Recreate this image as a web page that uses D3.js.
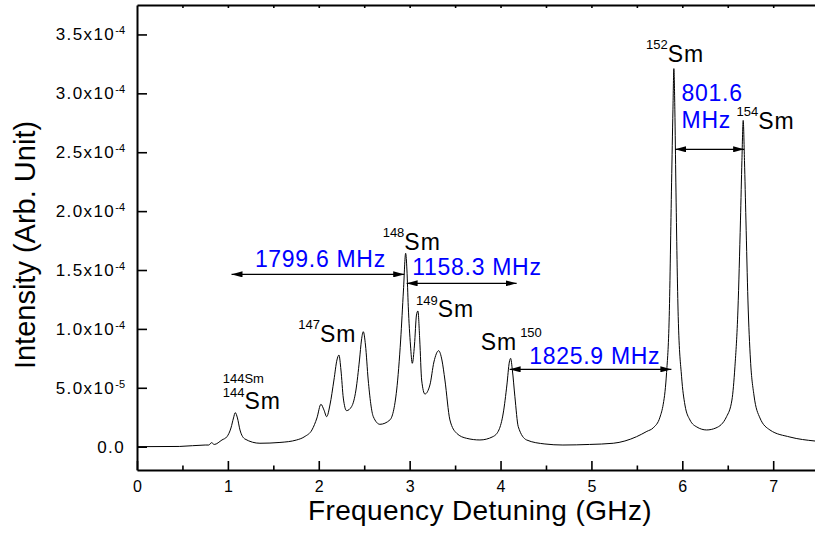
<!DOCTYPE html>
<html>
<head>
<meta charset="utf-8">
<script src="https://cdn.jsdelivr.net/npm/d3@7"></script>
<style>
  body { margin: 0; background: #fff; }
  text { font-family: Arial, "Liberation Sans", sans-serif; }
</style>
</head>
<body>
<div id="chart"></div>
<script>
// spectrum: frequency (GHz) and intensity (x1e-5 arb. unit)
var freqGHz = [0, 0.47, 0.75, 0.79, 0.82, 0.85, 0.935, 0.99, 1.034, 1.062,
  1.081, 1.105, 1.133, 1.188, 1.353, 1.573, 1.757, 1.848, 1.925, 1.98,
  2.024, 2.057, 2.087, 2.123, 2.167, 2.2, 2.222, 2.244, 2.27, 2.306,
  2.361, 2.409, 2.448, 2.47, 2.49, 2.514, 2.544, 2.6, 2.673, 2.783,
  2.857, 2.901, 2.932, 2.956, 2.97, 2.985, 3.009, 3.029, 3.053, 3.075,
  3.091, 3.111, 3.132, 3.168, 3.223, 3.267, 3.319, 3.355, 3.388, 3.443,
  3.517, 3.627, 3.773, 3.916, 3.982, 4.03, 4.07, 4.097, 4.111, 4.13,
  4.158, 4.195, 4.287, 4.488, 4.686, 4.98, 5.24, 5.497, 5.61, 5.68,
  5.754, 5.79, 5.81, 5.827, 5.856, 5.882, 5.897, 5.907, 5.918, 5.929, 5.955,
  5.992, 6.029, 6.084, 6.16, 6.267, 6.37, 6.487, 6.546, 6.579, 6.612,
  6.64, 6.656, 6.67, 6.684, 6.7, 6.722, 6.75, 6.788, 6.854, 6.964,
  7.184, 7.46];
var intensity = [0.0, 0.02, 0.14, 0.14, 0.34, 0.19, 0.57, 0.85, 1.59, 2.44,
  2.89, 2.44, 1.42, 0.65, 0.29, 0.36, 0.57, 0.87, 1.42, 2.44,
  3.6, 3.12, 2.55, 3.54, 5.66, 7.36, 7.78, 6.51, 4.13, 3.06,
  3.4, 4.81, 7.36, 9.06, 9.76, 8.63, 5.66, 2.55, 1.9, 2.27,
  4.81, 9.06, 13.3, 16.42, 15.0, 11.88, 8.63, 7.08, 8.63, 11.18,
  11.52, 9.06, 5.66, 4.47, 5.24, 7.19, 8.15, 7.36, 5.66, 2.27,
  1.14, 0.71, 0.57, 0.85, 1.42, 2.86, 5.24, 7.19, 7.5, 6.51,
  4.24, 1.7, 0.57, 0.23, 0.14, 0.19, 0.29, 0.85, 1.3, 1.6,
  2.5, 3.6, 4.7, 6.3, 11.04, 22.4, 28.6, 32.1, 28.6, 22.4, 11.04,
  5.94, 3.54, 2.27, 1.67, 1.42, 1.59, 2.55, 3.96, 6.79, 11.6,
  19.24, 24.3, 27.7, 24.3, 19.24, 12.45, 7.36, 4.39, 2.44, 1.42,
  0.82, 0.48];

// axis ticks
var xTicks = [0, 1, 2, 3, 4, 5, 6, 7];
var xMinorTicks = [0.5, 1.5, 2.5, 3.5, 4.5, 5.5, 6.5];
var xTopTicks = [0.5, 1, 1.5, 2, 2.5, 3, 3.5, 4, 4.5, 5, 5.5, 6, 6.5, 7];
var yTicks = [0, 5, 10, 15, 20, 25, 30, 35];
var yTickBase = ["0.0", "5.0x10", "1.0x10", "1.5x10", "2.0x10", "2.5x10", "3.0x10", "3.5x10"];
var yTickExp = ["", "-5", "-4", "-4", "-4", "-4", "-4", "-4"];

// isotope labels (anchor in GHz / 1e-5 units)
var isoMass = ["144", "147", "148", "149", "150", "152", "154"];
var isoX = [0.943, 1.775, 2.703, 3.069, 3.781, 5.6, 6.597];
var isoY = [3.17, 8.91, 16.7, 10.98, 8.21, 32.68, 26.97];
var isoMassAfter = [false, false, false, false, true, false, false];

// isotope shift annotations
var gapLabels = [["1799.6 MHz"], ["1158.3 MHz"], ["1825.9 MHz"], ["801.6", "MHz"]];
var gapTextX = [1.297, 3.029, 4.316, 5.992];
var gapTextY = [15.28, 14.58, 7.0, 29.35];
var gapFrom = [1.04, 2.967, 4.10, 5.92];
var gapTo = [2.94, 4.177, 5.88, 6.68];
var gapArrowY = [14.63, 13.87, 6.57, 25.25];

var svgWidth = 815;
var svgHeight = 533;
var margin = { top: 5, right: 0, bottom: 63, left: 137 };
var width = svgWidth - margin.left - margin.right;
var height = svgHeight - margin.top - margin.bottom;

var svg = d3.select("#chart")
  .append("svg")
  .attr("width", svgWidth)
  .attr("height", svgHeight);

var defs = svg.append("defs");
defs.append("marker")
  .attr("id", "arrow")
  .attr("viewBox", "0 0 11 6")
  .attr("refX", 11)
  .attr("refY", 3)
  .attr("markerWidth", 11)
  .attr("markerHeight", 6)
  .attr("markerUnits", "userSpaceOnUse")
  .attr("orient", "auto-start-reverse")
  .append("path")
  .attr("d", "M0,0L11,3L0,6Z")
  .attr("fill", "#000");

var chartGroup = svg.append("g")
  .attr("transform", `translate(${margin.left}, ${margin.top})`);

var xLinearScale = d3.scaleLinear().domain([0, 7.46]).range([0, width]);
var yLinearScale = d3.scaleLinear().domain([-1.98, 37.5]).range([height, 0]);

// spectrum line
var points = freqGHz.map((f, i) => [f, intensity[i]]);
var line = d3.line()
  .x(d => xLinearScale(d[0]))
  .y(d => yLinearScale(d[1]))
  .curve(d3.curveMonotoneX);

chartGroup.append("path")
  .datum(points)
  .attr("d", line)
  .attr("fill", "none")
  .attr("stroke", "#000")
  .attr("stroke-width", 1);

// bottom axis
var bottomAxis = d3.axisBottom(xLinearScale)
  .tickValues(xTicks)
  .tickSize(-9)
  .tickSizeOuter(0)
  .tickPadding(11)
  .tickFormat(d3.format("d"));
var xAxis = chartGroup.append("g")
  .attr("transform", `translate(0, ${height})`)
  .call(bottomAxis);
xAxis.selectAll("text").attr("font-size", "16px").attr("fill", "#000").style("font-family", "Arial, 'Liberation Sans', sans-serif");

var minorAxis = chartGroup.append("g")
  .attr("transform", `translate(0, ${height})`)
  .call(d3.axisBottom(xLinearScale).tickValues(xMinorTicks).tickSize(-4.5).tickFormat(""));
minorAxis.select(".domain").remove();

// top axis
var topAxis = chartGroup.append("g")
  .call(d3.axisTop(xLinearScale).tickValues(xTopTicks).tickSize(-3).tickSizeOuter(0).tickFormat(""));

// left axis
var leftAxis = d3.axisLeft(yLinearScale)
  .tickValues(yTicks)
  .tickSize(-10)
  .tickSizeOuter(0)
  .tickFormat("");
var yAxis = chartGroup.append("g").call(leftAxis);

chartGroup.selectAll(".domain").attr("stroke-width", 2);
chartGroup.selectAll(".tick line").attr("stroke-width", 1.6);

var yLabels = chartGroup.append("g").selectAll("text")
  .data(yTicks)
  .enter()
  .append("text")
  .attr("x", -12)
  .attr("y", d => yLinearScale(d) + 6)
  .attr("text-anchor", "end")
  .attr("font-size", "17px")
  .attr("letter-spacing", "1.4px");
yLabels.append("tspan").text((d, i) => yTickBase[i]);
yLabels.append("tspan")
  .attr("font-size", "11px")
  .attr("dy", -6)
  .attr("letter-spacing", "0px")
  .text((d, i) => yTickExp[i]);

// axis titles
chartGroup.append("text")
  .attr("x", 343)
  .attr("y", height + 50)
  .attr("text-anchor", "middle")
  .attr("font-size", "28px")
  .attr("letter-spacing", "0.4px")
  .text("Frequency Detuning (GHz)");

chartGroup.append("text")
  .attr("transform", "rotate(-90)")
  .attr("x", -240)
  .attr("y", -102)
  .attr("text-anchor", "middle")
  .attr("font-size", "29px")
  .text("Intensity (Arb. Unit)");

// isotope labels
isoMass.forEach(function(m, i) {
  var t = chartGroup.append("text")
    .attr("x", xLinearScale(isoX[i]))
    .attr("y", yLinearScale(isoY[i]));
  if (isoMassAfter[i]) {
    t.append("tspan").attr("font-size", "23px").attr("letter-spacing", "1px").text("Sm");
    t.append("tspan").attr("font-size", "13px").attr("dx", 3).attr("dy", -12.6).text(m);
  } else {
    t.append("tspan").attr("font-size", "13px").attr("dy", -12.6).text(m);
    t.append("tspan").attr("font-size", "23px").attr("dy", 12.6).attr("letter-spacing", "1px").text("Sm");
  }
});

// stray small "144Sm" label
chartGroup.append("text")
  .attr("x", xLinearScale(0.943))
  .attr("y", yLinearScale(5.4))
  .attr("font-size", "13px")
  .text("144Sm");

// isotope shift arrows and values
gapLabels.forEach(function(lines, i) {
  chartGroup.append("line")
    .attr("x1", xLinearScale(gapFrom[i]))
    .attr("x2", xLinearScale(gapTo[i]))
    .attr("y1", yLinearScale(gapArrowY[i]))
    .attr("y2", yLinearScale(gapArrowY[i]))
    .attr("stroke", "#000")
    .attr("stroke-width", 1.3)
    .attr("marker-start", "url(#arrow)")
    .attr("marker-end", "url(#arrow)");

  var t = chartGroup.append("text")
    .attr("x", xLinearScale(gapTextX[i]))
    .attr("y", yLinearScale(gapTextY[i]))
    .attr("font-size", "23px")
    .attr("letter-spacing", "0.7px")
    .attr("fill", "#0000ff");
  lines.forEach(function(s, j) {
    t.append("tspan")
      .attr("x", xLinearScale(gapTextX[i]))
      .attr("dy", j === 0 ? 0 : 27.3)
      .text(s);
  });
});
</script>
</body>
</html>
